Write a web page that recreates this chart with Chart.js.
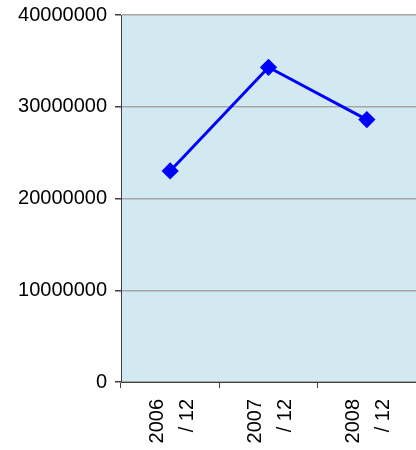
<!DOCTYPE html>
<html>
<head>
<meta charset="utf-8">
<script src="https://cdn.jsdelivr.net/npm/chart.js@4"></script>
<style>
html,body{margin:0;padding:0;background:#fff}
#wrap{width:416px;height:450px}
</style>
</head>
<body>
<div id="wrap"><canvas id="c" width="416" height="450"></canvas></div>
<script>
const labels=[["2006","/ 12"],["2007","/ 12"],["2008","/ 12"]];
const values=[23000000,34300000,28600000];
const yTicks=[0,10000000,20000000,30000000,40000000];

const plotBg={id:"plotBg",beforeDraw(ch){const a=ch.chartArea,ctx=ch.ctx;ctx.save();ctx.fillStyle="#d2e9f1";ctx.fillRect(a.left,a.top,a.right-a.left,a.bottom-a.top);ctx.restore()}};

Chart.defaults.font.family='"Liberation Sans",Arial,sans-serif';
Chart.defaults.color="#000";
new Chart(document.getElementById("c"),{
  type:"line",
  data:{labels:labels,datasets:[{data:values,borderColor:"#0000ff",backgroundColor:"#0000ff",borderWidth:3,pointStyle:"rectRot",pointRadius:6.5,pointHoverRadius:6.5,tension:0}]},
  options:{
    responsive:false,animation:false,
    layout:{autoPadding:false,padding:{top:15,right:0,bottom:0,left:0}},
    plugins:{legend:{display:false},tooltip:{enabled:false}},
    scales:{
      x:{offset:true,
        grid:{offset:true,drawOnChartArea:false,drawTicks:true,tickLength:6,color:"#404040"},
        border:{color:"#404040",width:1},
        ticks:{minRotation:90,maxRotation:90,padding:11,labelOffset:-13,font:{size:20,lineHeight:1.5}},
        afterFit(s){s.height=68;s.paddingLeft=0;s.paddingRight=0}},
      y:{min:0,max:40000000,
        afterBuildTicks(s){s.ticks=yTicks.map(v=>({value:v}))},
        grid:{color:"#a6a6a6",lineWidth:1.5,tickLength:6,tickColor:"#404040"},
        border:{color:"#404040",width:1},
        ticks:{padding:8,font:{size:20},callback:v=>String(v)},
        afterFit(s){s.width=121;s.paddingTop=0;s.paddingBottom=0}}
    }
  },
  plugins:[plotBg]
});
</script>
</body>
</html>
